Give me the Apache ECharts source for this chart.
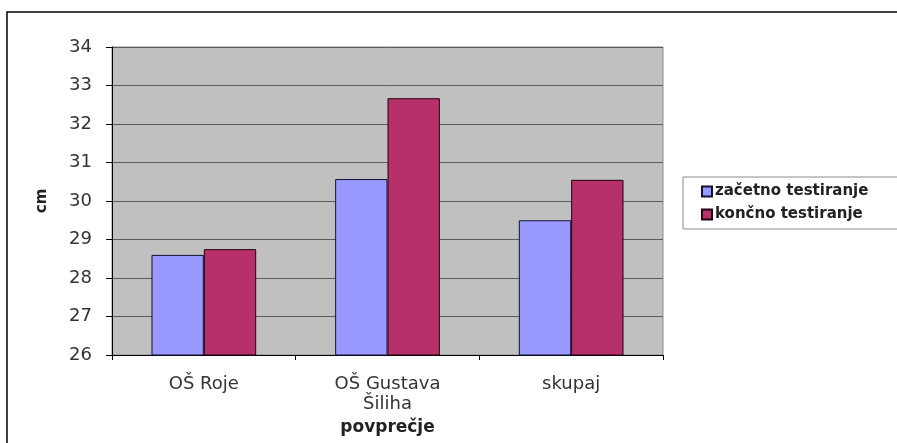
<!DOCTYPE html>
<html>
<head>
<meta charset="utf-8">
<script src="https://cdn.jsdelivr.net/npm/echarts@6/dist/echarts.min.js"></script>
<style>
  html, body { margin: 0; padding: 0; background: #ffffff; }
  #chart { width: 897px; height: 443px; }
</style>
</head>
<body>
<div id="chart"></div>
<script>
// Average results per school, in cm
const categories = ['OŠ Roje', 'OŠ Gustava\nŠiliha', 'skupaj'];
const seriesNames = ['začetno testiranje', 'končno testiranje'];
const startValues = [28.6, 30.57, 29.5];
const endValues = [28.75, 32.67, 30.55];
const yTicks = { min: 26, max: 34, interval: 1 };

const FONT = 'DejaVu Sans';

const chart = echarts.init(document.getElementById('chart'), null, { renderer: 'canvas' });

chart.setOption({
  backgroundColor: '#ffffff',
  animation: false,
  graphic: [{
    type: 'rect',
    shape: { x: 7, y: 12, width: 900, height: 450 },
    style: { fill: 'none', stroke: '#000000', lineWidth: 1.5 },
    silent: true
  }],
  grid: {
    left: 112, right: 234, top: 47, bottom: 88,
    show: true,
    backgroundColor: '#c0c0c0',
    borderColor: '#8a8a8a',
    borderWidth: 1
  },
  legend: {
    orient: 'vertical',
    left: 683, top: 177,
    data: seriesNames,
    itemWidth: 10, itemHeight: 10,
    itemGap: 8,
    padding: [7, 40, 7, 18],
    borderColor: '#8a8a8a',
    borderWidth: 1,
    backgroundColor: '#ffffff',
    icon: 'rect',
    textStyle: { fontFamily: FONT, fontWeight: 'bold', fontSize: 15, color: '#222222', padding: [0, 0, 0, -2] }
  },
  xAxis: {
    type: 'category',
    data: categories,
    name: 'povprečje',
    nameLocation: 'middle',
    nameGap: 55,
    nameTextStyle: { fontFamily: FONT, fontWeight: 'bold', fontSize: 17, color: '#222222' },
    axisLine: { lineStyle: { color: '#000000', width: 1 } },
    axisTick: { show: true, length: 5, lineStyle: { color: '#000000' } },
    axisLabel: { fontFamily: FONT, fontSize: 18, color: '#333333', margin: 19, lineHeight: 20 },
    splitLine: { show: false }
  },
  yAxis: {
    type: 'value',
    min: yTicks.min, max: yTicks.max, interval: yTicks.interval,
    name: 'cm',
    nameLocation: 'middle',
    nameGap: 62,
    nameRotate: 90,
    nameTextStyle: { fontFamily: FONT, fontWeight: 'bold', fontSize: 15, color: '#222222' },
    axisLine: { show: true, lineStyle: { color: '#000000', width: 1 } },
    axisTick: { show: true, length: 6, lineStyle: { color: '#000000' } },
    axisLabel: { fontFamily: FONT, fontSize: 18, color: '#333333', margin: 20 },
    splitLine: { show: true, lineStyle: { color: '#5c5c5c', width: 1 } }
  },
  series: [
    {
      name: seriesNames[0],
      type: 'bar',
      data: startValues,
      barGap: '0%',
      barCategoryGap: '43%',
      itemStyle: { color: '#9999ff', borderColor: '#111133', borderWidth: 1 }
    },
    {
      name: seriesNames[1],
      type: 'bar',
      data: endValues,
      barGap: '0%',
      barCategoryGap: '43%',
      itemStyle: { color: '#b8306a', borderColor: '#220011', borderWidth: 1 }
    }
  ]
});
</script>
</body>
</html>
